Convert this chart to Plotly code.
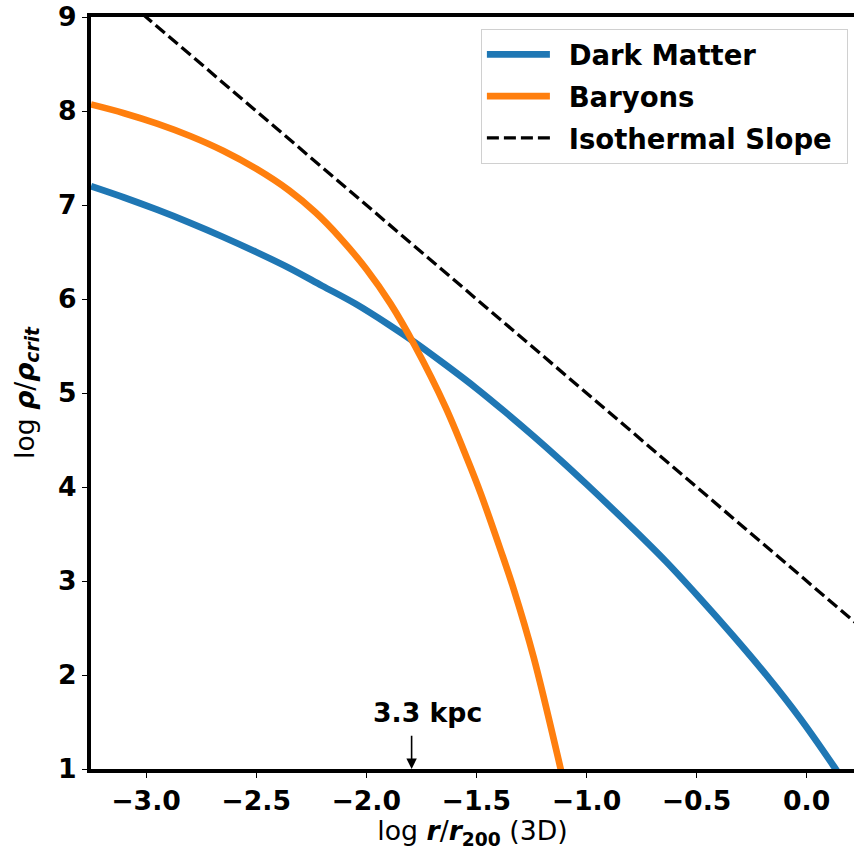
import plotly.graph_objects as go

# Log radius (in units of r200) and log density (in units of rho_crit)
dm_logr = [-3.25, -3.1, -2.95, -2.8, -2.65, -2.5, -2.35, -2.2, -2.05, -1.9,
           -1.78, -1.64, -1.5, -1.37, -1.24, -1.12, -1.0, -0.79, -0.64,
           -0.49, -0.335, -0.18, -0.03, 0.12, 0.25]
dm_logrho = [7.20, 7.08, 6.95, 6.81, 6.66, 6.50, 6.33, 6.14, 5.95, 5.73,
             5.54, 5.30, 5.05, 4.80, 4.54, 4.29, 4.03, 3.56, 3.21,
             2.83, 2.42, 1.99, 1.54, 1.04, 0.58]

bar_logr = [-3.25, -3.1, -2.95, -2.8, -2.65, -2.5, -2.35, -2.23, -2.12, -2.0,
            -1.89, -1.78, -1.64, -1.54, -1.48, -1.39, -1.33, -1.24, -1.12, -1.06]
bar_logrho = [8.070, 7.977, 7.866, 7.734, 7.577, 7.386, 7.154, 6.920, 6.655, 6.319,
              5.951, 5.505, 4.85, 4.29, 3.93, 3.33, 2.91, 2.19, 1.03, 0.41]

# Isothermal (rho ~ r^-2) reference line
iso_logr = [-3.25, 0.25]
iso_logrho = [9.5, 2.5]

# Marked radius
kpc_label = "3.3 kpc"
kpc_logr = -1.794

x_ticks = [-3.0, -2.5, -2.0, -1.5, -1.0, -0.5, 0.0]
x_tick_labels = ["\u22123.0", "\u22122.5", "\u22122.0", "\u22121.5",
                 "\u22121.0", "\u22120.5", "0.0"]
y_ticks = [1, 2, 3, 4, 5, 6, 7, 8, 9]
y_tick_labels = ["1", "2", "3", "4", "5", "6", "7", "8", "9"]

FONT = "DejaVu Sans"
FS = 26.7
LEG_FS = 27.5
SP = "\u2002"
NB = "\u00a0"

fig = go.Figure()
fig.add_trace(go.Scatter(x=dm_logr, y=dm_logrho, mode="lines",
                         name=SP + "Dark Matter" + NB, legendgroup="dm",
                         line=dict(color="#1f77b4", width=6.7,
                                   shape="spline", smoothing=1.0)))
fig.add_trace(go.Scatter(x=bar_logr, y=bar_logrho, mode="lines",
                         name=SP + "Baryons", legendgroup="bar",
                         line=dict(color="#ff7f0e", width=6.7,
                                   shape="spline", smoothing=1.0)))
fig.add_trace(go.Scatter(x=iso_logr, y=iso_logrho, mode="lines",
                         name=SP + "Isothermal Slope" + NB, legendgroup="iso",
                         line=dict(color="black", width=3.3, dash="12px,5px")))

# arrow marking the radius
fig.add_annotation(x=kpc_logr, y=1, xref="x", yref="y",
                   ax=kpc_logr, ay=1.37, axref="x", ayref="y",
                   text="", showarrow=True, arrowhead=2, arrowsize=1.3,
                   arrowwidth=1.6, arrowcolor="black")
fig.add_annotation(x=kpc_logr, y=1.60, xref="x", yref="y", xshift=16,
                   text="<b>" + kpc_label + "</b>", showarrow=False,
                   font=dict(family=FONT, size=FS, color="black"))

fig.update_layout(
    width=854, height=850,
    margin=dict(l=91, r=0, t=17, b=81),
    paper_bgcolor="white", plot_bgcolor="white",
    font=dict(family=FONT, color="black"),
    showlegend=True,
    legend=dict(x=0.992, y=0.984, xanchor="right", yanchor="top",
                bgcolor="white", bordercolor="#d0d0d0", borderwidth=1,
                font=dict(family=FONT, size=LEG_FS, color="black", weight="bold"),
                itemwidth=63, tracegroupgap=3),
)
fig.update_xaxes(
    range=[-3.25, 0.215], tickvals=x_ticks, ticktext=x_tick_labels,
    showgrid=False, zeroline=False, showline=True, linewidth=4, linecolor="black",
    mirror=True, ticks="outside", ticklen=5, tickwidth=1, tickcolor="black",
    tickfont=dict(family=FONT, size=FS, color="black", weight="bold"),
    title=dict(text="log <b><i>r</i></b>/<b><i>r</i><sub>200</sub></b> (3D)",
               font=dict(family=FONT, size=FS, color="black"), standoff=14),
)
fig.update_yaxes(
    range=[1, 9], tickvals=y_ticks, ticktext=y_tick_labels,
    showgrid=False, zeroline=False, showline=True, linewidth=4, linecolor="black",
    mirror=False, ticks="outside", ticklen=5, tickwidth=1, tickcolor="black",
    tickfont=dict(family=FONT, size=FS, color="black", weight="bold"),
    title=dict(text="log <b><i>\u03c1</i></b>/<b><i>\u03c1<sub>crit</sub></i></b>",
               font=dict(family=FONT, size=FS, color="black"), standoff=17),
)

fig.write_html("out.html")
